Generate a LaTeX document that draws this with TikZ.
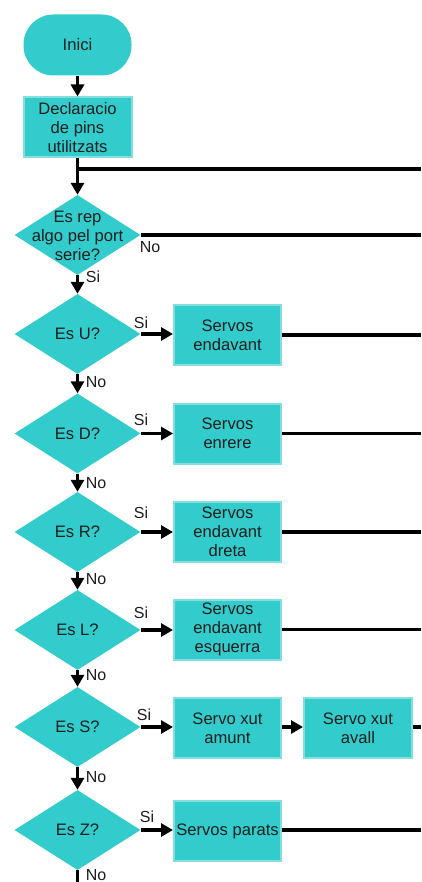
\documentclass[tikz,border=0pt]{standalone}
\usepackage{fontspec}
\setmainfont{Liberation Sans}
\usetikzlibrary{shapes.geometric,arrows.meta}
\definecolor{tealfill}{HTML}{33CCCC}
\definecolor{tealedge}{HTML}{85DEDE}
\definecolor{inktext}{HTML}{1E1E1E}
\begin{document}
\begin{tikzpicture}[x=1pt,y=-1pt,
  every node/.style={font=\fontsize{16.6}{18.8}\selectfont, text=inktext},
  terminal/.style={fill=tealfill, rounded corners=30pt, minimum width=108pt, minimum height=61pt, inner sep=0pt},
  procbox/.style={fill=tealfill, draw=tealedge, line width=2pt, minimum width=107pt, minimum height=60pt, inner sep=1pt, align=center},
  decision/.style={diamond, fill=tealfill, minimum width=126pt, minimum height=80pt, inner sep=0pt, shape aspect=1.575, align=center},
  flow/.style={line width=3.4pt, -{Triangle[length=12pt,width=13pt]}},
  link/.style={line width=3.4pt},
  lbl/.style={inner sep=0pt, font=\fontsize{16}{17}\selectfont}
]
\useasboundingbox (0,0) rectangle (421,882);

% edges of the sheet, where the return lines leave
\coordinate (rim) at (421,0);
\coordinate (floor) at (0,882);

% main column
\node[terminal] (start) at (77.5,45) {Inici};
\node[procbox, minimum width=108pt] (decl) at (77.5,127.5) {Declaracio\\de pins\\utilitzats};
\node[decision] (d0) at (77.5,235) {};
\node[align=center, inner sep=0pt] (d0txt) at (77.5,236) {Es rep\\algo pel port\\serie?};
\node[decision] (dU) at (77.5,334) {Es U?};
\node[decision] (dD) at (77.5,433.5) {Es D?};
\node[decision] (dR) at (77.5,532) {Es R?};
\node[decision] (dL) at (77.5,630) {Es L?};
\node[decision] (dS) at (77.5,727) {Es S?};
\node[decision] (dZ) at (77.5,830) {Es Z?};

% actions
\node[procbox] (bU) at (227.5,335) {Servos\\endavant};
\node[procbox] (bD) at (227.5,433.5) {Servos\\enrere};
\node[procbox] (bR) at (227.5,532) {Servos\\endavant\\dreta};
\node[procbox] (bL) at (227.5,629.5) {Servos\\endavant\\esquerra};
\node[procbox] (bS1) at (227.5,728) {Servo xut\\amunt};
\node[procbox, minimum width=108pt] (bS2) at (358,728) {Servo xut\\avall};
\node[procbox, inner sep=0pt] (bZ) at (227.5,831) {Servos parats};

% vertical flow
\draw[flow] (start) -- (decl);
\draw[flow] (decl) -- (d0);
\draw[flow] (d0) -- (dU);
\draw[flow] (dU) -- (dD);
\draw[flow] (dD) -- (dR);
\draw[flow] (dR) -- (dL);
\draw[flow] (dL) -- (dS);
\draw[flow] (dS) -- (dZ);
\draw[link] (dZ.south) -- (dZ.south |- floor);

% return line above the first decision
\coordinate (split) at (77.5,169);
\draw[link] (split) -- (split -| rim);
\draw[link] (d0.east) -- (d0.east -| rim);

% branches to the actions
\draw[flow] (dU.east) -- (bU.west |- dU.east);
\draw[flow] (dD.east) -- (bD.west |- dD.east);
\draw[flow] (dR.east) -- (bR.west |- dR.east);
\draw[flow] (dL.east) -- (bL.west |- dL.east);
\draw[flow] (dS.east) -- (bS1.west |- dS.east);
\draw[flow] (dZ.east) -- (bZ.west |- dZ.east);
\draw[flow] (bS1.east |- dS.east) -- (bS2.west |- dS.east);

% return lines from the actions
\draw[link] (bU.east) -- (bU.east -| rim);
\draw[link] (bD.east) -- (bD.east -| rim);
\draw[link] (bR.east) -- (bR.east -| rim);
\draw[link] (bL.east) -- (bL.east -| rim);
\draw[link] (bS2.east |- dS.east) -- (dS.east -| rim);
\draw[link] (bZ.east |- dZ.east) -- (dZ.east -| rim);

% branch labels
\node[lbl] (n0) at (150,247) {No};
\node[lbl] (s0) at (93,277) {Si};
\node[lbl] (sU) at (141,323) {Si};
\node[lbl] (nU) at (96,382) {No};
\node[lbl] (sD) at (141,420) {Si};
\node[lbl] (nD) at (96,483) {No};
\node[lbl] (sR) at (141,513) {Si};
\node[lbl] (nR) at (96,579) {No};
\node[lbl] (sL) at (141,613) {Si};
\node[lbl] (nL) at (96,675) {No};
\node[lbl] (sS) at (144,715) {Si};
\node[lbl] (nS) at (96,777) {No};
\node[lbl] (sZ) at (147,817) {Si};
\node[lbl] (nZ) at (96,875) {No};
\end{tikzpicture}
\end{document}
